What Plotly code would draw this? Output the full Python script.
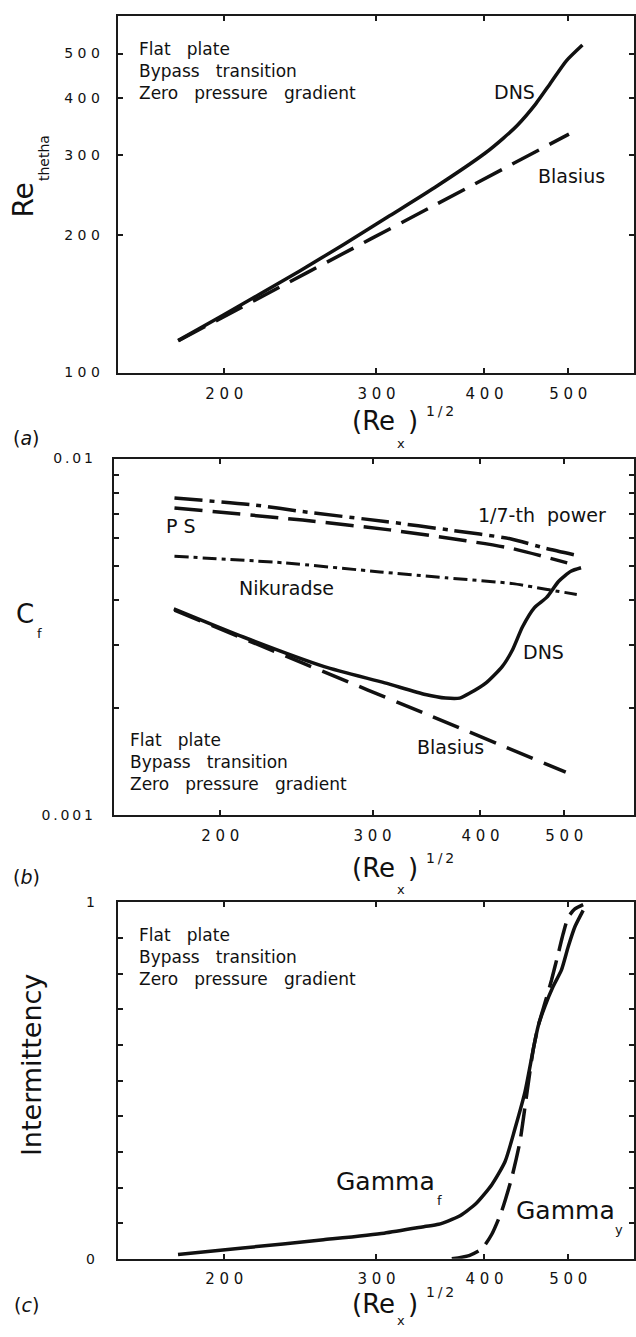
import plotly.graph_objects as go

# ---------------- data ----------------
# Panel (a): Re_theta vs (Re_x)^1/2
a_dns_x = [176.8, 198.6, 244, 274.9, 311, 350.4, 400.9, 420.8, 437, 458.6, 476.3, 497.5, 519.3]
a_dns_y = [117.5, 133, 166.5, 190.9, 220.8, 254.4, 302.7, 326.4, 348.8, 388, 429, 482, 522]
a_blas_x = [177, 250, 350, 501]
a_blas_y = [117.5, 166, 232.5, 333]

# Panel (b): Cf vs (Re_x)^1/2
b_p17_x = [177, 220, 249, 312, 369, 433, 476, 514]
b_p17_y = [0.00775, 0.0074, 0.0071, 0.00665, 0.0063, 0.00596, 0.0056, 0.00537]
b_ps_x = [177, 249, 314, 385, 433, 504]
b_ps_y = [0.00727, 0.00672, 0.00631, 0.00588, 0.00561, 0.0051]
b_nik_x = [177, 237, 306, 365, 436, 476, 517]
b_nik_y = [0.00532, 0.0051, 0.00481, 0.00463, 0.00446, 0.0043, 0.00416]
b_blas_x = [177, 250, 350, 502]
b_blas_y = [0.00376, 0.00266, 0.0019, 0.00132]
b_dns_x = [176.7, 212.6, 263.8, 310, 345.4, 364.5, 378.5, 388.9, 406, 423.8, 435.4,
           447.3, 461.9, 477.1, 492.7, 509, 522.9]
b_dns_y = [0.00379, 0.00316, 0.00261, 0.00235, 0.00218, 0.00213, 0.00213, 0.0022, 0.00235,
           0.00261, 0.0029, 0.00337, 0.00382, 0.00408, 0.00453, 0.00483, 0.00494]

# Panel (c): intermittency
c_gf_x = [176.8, 210.1, 260.5, 306.2, 341.1, 354, 373.3, 390.3, 407.9, 422.6, 434, 445.6,
          455.6, 461.6, 469.9, 480.4, 491.1, 500, 509, 518, 520.3]
c_gf_y = [0.012, 0.0305, 0.0535, 0.072, 0.0905, 0.097, 0.1185, 0.153, 0.208, 0.273, 0.366,
          0.468, 0.588, 0.653, 0.708, 0.764, 0.81, 0.875, 0.931, 0.968, 0.977]
c_gy_x = [366.7, 384, 397.2, 407.9, 418.8, 430.1, 439.7, 447.5, 455.6, 461.6, 469.9, 478.3,
          486.9, 493.4, 500, 509, 520.3]
c_gy_y = [0.0, 0.009, 0.028, 0.069, 0.134, 0.227, 0.329, 0.458, 0.588, 0.653, 0.717, 0.782,
          0.856, 0.912, 0.958, 0.981, 0.993]

# ticks
x_tick_vals = [200, 300, 400, 500]
x_tick_labels = ["200", "300", "400", "500"]
a_y_tick_vals = [100, 200, 300, 400, 500]
a_y_tick_labels = ["100", "200", "300", "400", "500"]
b_y_tick_vals = [0.001, 0.002, 0.003, 0.004, 0.005, 0.006, 0.007, 0.008, 0.009, 0.01]
b_y_tick_labels = ["0.001", "", "", "", "", "", "", "", "", "0.01"]
c_y_tick_vals = [0, 0.1, 0.2, 0.3, 0.4, 0.5, 0.6, 0.7, 0.8, 0.9, 1.0]
c_y_tick_labels = ["0", "", "", "", "", "", "", "", "", "", "1"]

# ---------------- figure ----------------
W, H = 636, 1337
FONT = "DejaVu Sans"
INK = "#111111"


def fx(p):
    return p / W


def fy(p):
    return 1 - p / H


def spaced(s, sep=" "):
    return sep.join(list(s))


fig = go.Figure()


def line(x, y, xa, ya, dash="solid", width=3.5):
    fig.add_trace(go.Scatter(
        x=x, y=y, mode="lines", xaxis=xa, yaxis=ya, hoverinfo="skip", showlegend=False,
        line=dict(color=INK, width=width, dash=dash, shape="spline", smoothing=0.6)))


# panel a
line(a_dns_x, a_dns_y, "x", "y")
line(a_blas_x, a_blas_y, "x", "y", dash="30px,12px")
# panel b
line(b_p17_x, b_p17_y, "x2", "y2", dash="28px,7px,5px,7px")
line(b_ps_x, b_ps_y, "x2", "y2", dash="28px,10px")
line(b_nik_x, b_nik_y, "x2", "y2", dash="14px,5px,4px,5px", width=3)
line(b_blas_x, b_blas_y, "x2", "y2", dash="28px,12px")
line(b_dns_x, b_dns_y, "x2", "y2")
# panel c
line(c_gf_x, c_gf_y, "x3", "y3")
line(c_gy_x, c_gy_y, "x3", "y3", dash="28px,10px")

axis_common = dict(showline=True, linecolor="#1a1a1a", linewidth=2, mirror="ticks",
                   ticks="inside", ticklen=5, tickwidth=1.5, tickcolor="#1a1a1a",
                   showgrid=False, zeroline=False, fixedrange=True,
                   tickfont=dict(family=FONT, size=15, color=INK))

x_text = [spaced(t) for t in x_tick_labels]

fig.update_layout(
    width=W, height=H, margin=dict(l=0, r=0, t=0, b=0),
    paper_bgcolor="white", plot_bgcolor="white", showlegend=False,
    xaxis=dict(axis_common, domain=[fx(118), 1], anchor="y", type="log",
               range=[2.1776, 2.7751], tickvals=x_tick_vals, ticktext=x_text,
               ticklabelstandoff=6),
    yaxis=dict(axis_common, domain=[fy(369), fy(8)], anchor="x", type="log",
               range=[2, 2.7814], tickvals=a_y_tick_vals,
               ticktext=[spaced(t) for t in a_y_tick_labels], ticklabelstandoff=13,
               tickfont=dict(family=FONT, size=14, color=INK)),
    xaxis2=dict(axis_common, domain=[fx(114), 1], anchor="y2", type="log",
                range=[2.1776, 2.7797], tickvals=x_tick_vals, ticktext=x_text,
                ticklabelstandoff=6),
    yaxis2=dict(axis_common, domain=[fy(817), fy(456)], anchor="x2", type="log",
                range=[-3, -2], tickvals=b_y_tick_vals,
                ticktext=[spaced(t, "\u2009") for t in b_y_tick_labels], ticklabelstandoff=16,
                tickfont=dict(family=FONT, size=14, color=INK)),
    xaxis3=dict(axis_common, domain=[fx(118), 1], anchor="y3", type="log",
                range=[2.1776, 2.7751], tickvals=x_tick_vals, ticktext=x_text,
                ticklabelstandoff=5),
    yaxis3=dict(axis_common, domain=[fy(1266), fy(905)], anchor="x3",
                range=[0, 1], tickvals=c_y_tick_vals, ticktext=c_y_tick_labels,
                ticklabelstandoff=18, tickfont=dict(family=FONT, size=14, color=INK)),
)

ann = []


def text(t, x, y, size, xanchor="center", yanchor="middle", angle=0, align="left"):
    ann.append(dict(text=t, x=fx(x), y=fy(y), xref="paper", yref="paper", showarrow=False,
                    xanchor=xanchor, yanchor=yanchor, textangle=angle, align=align,
                    font=dict(family=FONT, size=size, color=INK)))


NB = "\u00a0\u00a0\u00a0"
block = "Flat" + NB + "plate<br>Bypass" + NB + "transition<br>Zero" + NB + "pressure" + NB + "gradient"


def xtitle(cy, sup_y, sub_y):
    text("(Re", 351, cy, 26, xanchor="left")
    text("x", 402, sub_y, 13)
    text(")", 407, cy, 26, xanchor="left")
    text("1\u2009/\u20092", 441, sup_y, 14)


# panel a annotations
text(block, 137, 64, 17, xanchor="left")
text("DNS", 516, 85, 19)
text("Blasius", 573, 170, 19)
text("Re", 24, 194, 28, angle=-90)
text("thetha", 44, 152, 14, angle=-90)
xtitle(418, 408, 441)
text("(<i>a</i>)", 27, 435, 19)

# panel b annotations
text("P S", 182, 524, 19)
text("1/7-th\u00a0\u00a0power", 544, 513, 19)
text("Nikuradse", 287, 587, 19)
text("DNS", 545, 652, 19)
text("Blasius", 452, 748, 19)
text(block, 128, 763, 17, xanchor="left")
text("C", 25, 613, 26)
text("f", 40, 633, 13)
xtitle(870, 860, 892)
text("(<i>b</i>)", 27, 880, 19)

# panel c annotations
text(block, 137, 960, 17, xanchor="left")
text("Gamma", 387, 1188, 25)
text("f", 441, 1207, 13)
text("Gamma", 567, 1217, 25)
text("y", 621, 1236, 13)
text("Intermittency", 31, 1070, 27, angle=-90)
xtitle(1312, 1300, 1328)
text("(<i>c</i>)", 27, 1313, 19)

fig.update_layout(annotations=ann)

fig.write_html("out.html")
